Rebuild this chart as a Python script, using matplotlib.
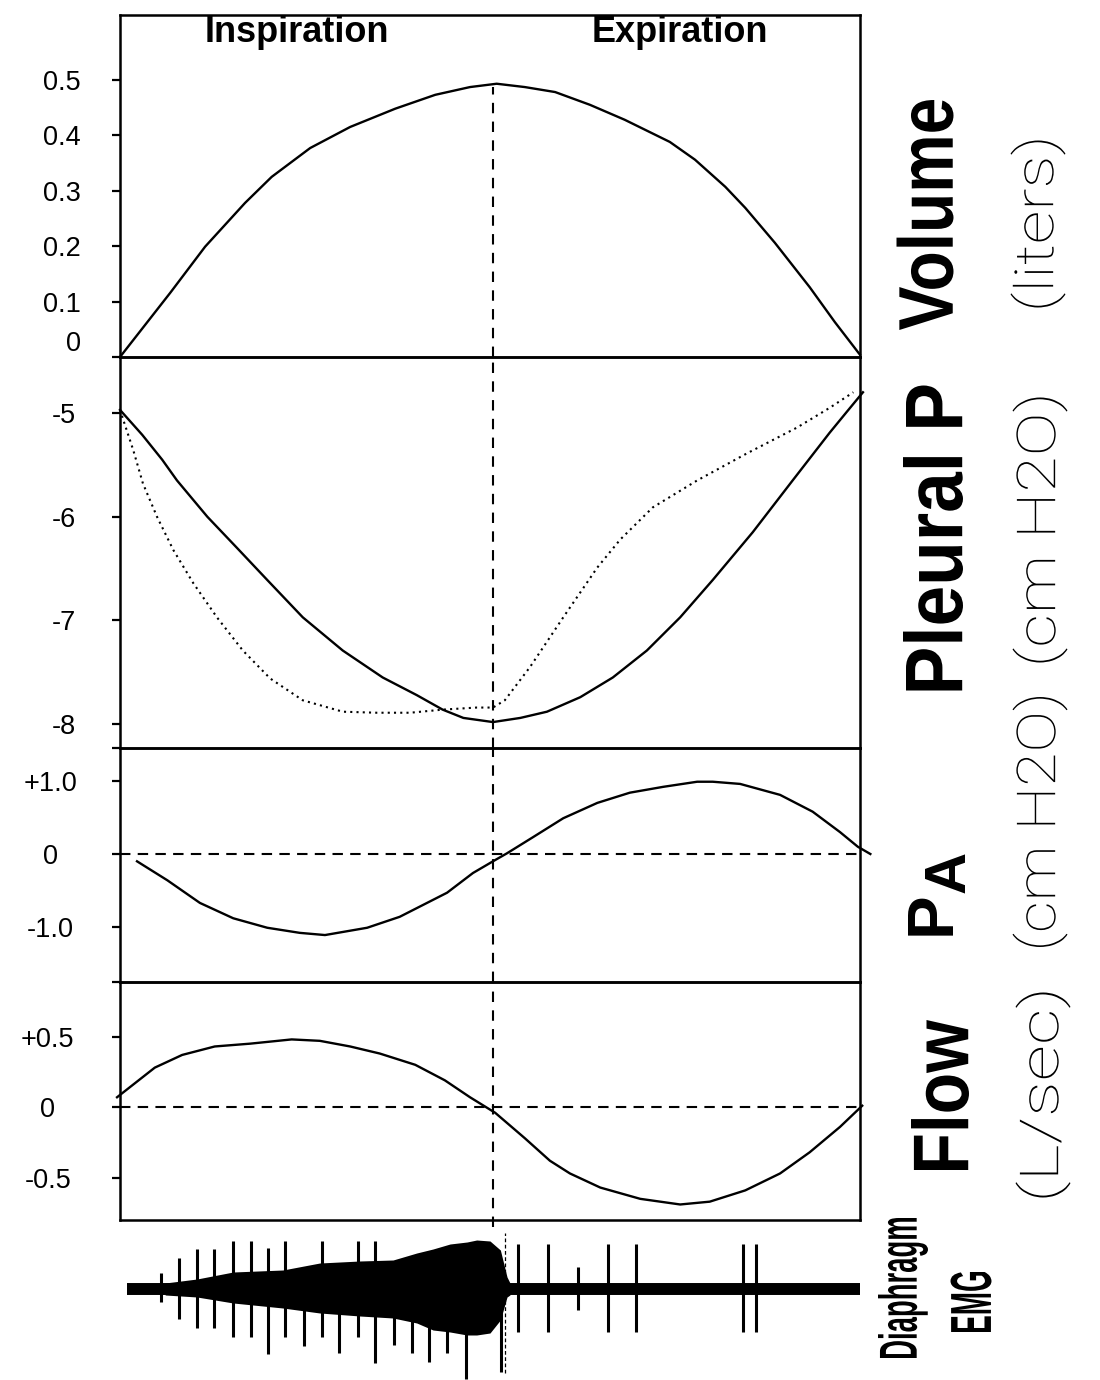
import numpy as np
import matplotlib
matplotlib.use("Agg")
import matplotlib.pyplot as plt
from matplotlib.textpath import TextPath
from matplotlib.patches import PathPatch
from matplotlib.font_manager import FontProperties
from matplotlib.transforms import Affine2D, IdentityTransform

plt.rcParams['font.family'] = ['Liberation Sans', 'DejaVu Sans']

# time as fraction of one breath cycle
t_mid = 0.504

# Volume (liters)
vol_t = [0.0, 0.068, 0.115, 0.169, 0.205, 0.257, 0.311, 0.372, 0.426, 0.473, 0.509,
         0.547, 0.588, 0.635, 0.682, 0.743, 0.777, 0.818, 0.845, 0.885, 0.932, 0.966, 1.0]
vol_v = [0.0, 0.116, 0.199, 0.278, 0.325, 0.377, 0.415, 0.448, 0.473, 0.487, 0.493,
         0.487, 0.478, 0.455, 0.428, 0.388, 0.356, 0.307, 0.269, 0.206, 0.126, 0.063, 0.004]
vol_peak = 0.487

# Pleural pressure (cm H2O), solid and dotted
pl_t = [0.0, 0.030, 0.057, 0.077, 0.118, 0.158, 0.199, 0.247, 0.301, 0.355, 0.401, 0.436,
        0.464, 0.504, 0.541, 0.577, 0.622, 0.666, 0.712, 0.757, 0.801, 0.855, 0.909, 0.959,
        0.982, 1.004]
pl_v = [-4.97, -5.21, -5.45, -5.65, -6.00, -6.30, -6.61, -6.97, -7.29, -7.55, -7.72, -7.86,
        -7.94, -7.98, -7.94, -7.88, -7.74, -7.55, -7.29, -6.97, -6.61, -6.15, -5.65, -5.19,
        -4.99, -4.80]
pl2_t = [0.0, 0.018, 0.031, 0.050, 0.072, 0.099, 0.131, 0.166, 0.203, 0.247, 0.301, 0.347,
         0.392, 0.436, 0.482, 0.504, 0.520, 0.554, 0.599, 0.645, 0.676, 0.720, 0.780, 0.847,
         0.915, 0.959, 0.991]
pl2_v = [-4.97, -5.36, -5.68, -6.00, -6.32, -6.64, -6.97, -7.29, -7.56, -7.77, -7.88, -7.89,
         -7.89, -7.86, -7.84, -7.84, -7.77, -7.45, -6.97, -6.49, -6.22, -5.91, -5.65, -5.39,
         -5.14, -4.95, -4.80]

# Alveolar pressure (cm H2O)
pa_t = [0.023, 0.064, 0.108, 0.153, 0.199, 0.243, 0.277, 0.334, 0.378, 0.442, 0.477, 0.504,
        0.523, 0.558, 0.599, 0.645, 0.689, 0.734, 0.780, 0.801, 0.838, 0.892, 0.936, 0.973,
        0.997, 1.014]
pa_v = [-0.10, -0.36, -0.67, -0.88, -1.01, -1.08, -1.11, -1.01, -0.86, -0.53, -0.26, -0.10,
        0.01, 0.23, 0.49, 0.70, 0.84, 0.92, 0.99, 0.99, 0.96, 0.81, 0.58, 0.30, 0.10, 0.00]

# Flow (L/sec)
fl_t = [-0.004, 0.047, 0.084, 0.128, 0.176, 0.232, 0.270, 0.311, 0.351, 0.399, 0.439, 0.473,
        0.507, 0.547, 0.581, 0.608, 0.649, 0.703, 0.757, 0.797, 0.845, 0.892, 0.932, 0.973,
        1.003]
fl_v = [0.07, 0.28, 0.37, 0.43, 0.45, 0.48, 0.47, 0.43, 0.38, 0.30, 0.19, 0.07,
        -0.04, -0.22, -0.38, -0.47, -0.57, -0.65, -0.69, -0.67, -0.59, -0.47, -0.32, -0.14,
        0.01]

# Diaphragm EMG (arbitrary units)
emg_base = [0.009, 1.003]
env_t = [0.061, 0.104, 0.153, 0.220, 0.270, 0.324, 0.369, 0.401, 0.423, 0.446, 0.469,
         0.482, 0.500, 0.514, 0.523, 0.527]
env_hi = [6, 10, 17, 19, 26, 28, 29, 36, 40, 45, 47, 49, 48, 39, 12, 6]
env_lo = [-6, -8, -14, -19, -24, -27, -29, -34, -41, -43, -46, -46, -44, -31, -8, -6]
spk_t = [0.055, 0.080, 0.104, 0.127, 0.153, 0.177, 0.200, 0.223, 0.249, 0.273, 0.296,
         0.322, 0.345, 0.370, 0.395, 0.418, 0.442, 0.468, 0.515,
         0.538, 0.578, 0.619, 0.659, 0.697, 0.842, 0.859]
spk_hi = [16, 31, 40, 40, 48, 48, 41, 48, 20, 48, 20, 48, 48, 20, 20, 20, 20, 20, 20,
          45, 45, 22, 45, 45, 45, 45]
spk_lo = [-13, -30, -39, -39, -48, -48, -65, -48, -57, -48, -64, -48, -74, -56, -64, -73,
          -64, -90, -83, -43, -43, -21, -43, -43, -43, -43]
t_emg = 0.520

W, H = 1100, 1380
fig = plt.figure(figsize=(W / 100, H / 100), dpi=100)


def box(top, bottom):
    return [120 / W, 1 - bottom / H, 740 / W, (bottom - top) / H]


def style(ax, ticks, labels, ylim, pad=22, ha='right'):
    ax.set_xlim(0, 1)
    ax.set_ylim(*ylim)
    ax.set_xticks([])
    ax.set_yticks(ticks)
    ax.set_yticklabels(labels, ha=ha)
    ax.tick_params(axis='y', direction='out', length=6, width=1.6, pad=pad, labelsize=19.5)
    # divider line pokes out to the left like a tick
    ax.set_yticks([ylim[0]], minor=True)
    ax.tick_params(axis='y', which='minor', direction='out', length=6, width=1.6)
    for s in ax.spines.values():
        s.set_linewidth(1.8)
    ax.patch.set_alpha(0)


lw = 1.7
dash = (0, (5, 4))

ax1 = fig.add_axes(box(15, 357))
style(ax1, [0, 0.1, 0.2, 0.3, 0.4, 0.5], ['0', '0.1', '0.2', '0.3', '0.4', '0.5'], (0, 0.617))
ax1.plot(vol_t, vol_v, color='k', lw=lw, clip_on=False)
ax1.vlines(t_mid, 0, vol_peak, colors='k', linestyles=dash, lw=1.5)
ax1.yaxis.get_major_ticks()[0].label1.set_verticalalignment('bottom')
ax1.text(0.239, 0.948, 'Inspiration', transform=ax1.transAxes, ha='center', va='center',
         fontsize=26, fontweight='bold')
ax1.text(0.757, 0.948, 'Expiration', transform=ax1.transAxes, ha='center', va='center',
         fontsize=26, fontweight='bold')

ax2 = fig.add_axes(box(357, 748))
style(ax2, [-5, -6, -7, -8], ['-5', '-6', '-7', '-8'], (-8.23, -4.46), pad=26)
ax2.plot(pl_t, pl_v, color='k', lw=lw, clip_on=False)
ax2.plot(pl2_t, pl2_v, color='k', lw=1.5, ls=(0, (1, 2)), clip_on=False)
ax2.axvline(t_mid, color='k', ls=dash, lw=1.5)

ax3 = fig.add_axes(box(748, 982))
style(ax3, [1, 0, -1], ['+1.0', '0', '-1.0'], (-1.753, 1.452), pad=44, ha='center')
ax3.plot(pa_t, pa_v, color='k', lw=lw, clip_on=False)
ax3.axhline(0, color='k', ls=(0, (5, 3.5)), lw=1.5)
ax3.axvline(t_mid, color='k', ls=dash, lw=1.5)

ax4 = fig.add_axes(box(982, 1220))
style(ax4, [0.5, 0, -0.5], ['+0.5', '0', '-0.5'], (-0.80, 0.887), pad=46, ha='center')
ax4.set_yticks([], minor=True)
ax4.plot(fl_t, fl_v, color='k', lw=lw, clip_on=False)
ax4.axhline(0, color='k', ls=(0, (5, 3.5)), lw=1.5)
ax4.axvline(t_mid, ymin=-0.03, ymax=1, color='k', ls=dash, lw=1.5, clip_on=False)

ax5 = fig.add_axes(box(1222, 1380))
ax5.set_xlim(0, 1)
ax5.set_ylim(-91, 67)
ax5.axis('off')
ax5.plot(emg_base, [0, 0], color='k', lw=8.6, solid_capstyle='butt')
ax5.fill_between(env_t, env_lo, env_hi, color='k', lw=0)
ax5.vlines(spk_t, spk_lo, spk_hi, colors='k', lw=2.2)
ax5.vlines(t_emg, -84, 56, colors='k', linestyles=(0, (3, 2)), lw=0.9)

# right-hand labels, drawn as paths fitted to a box (rotated 90 degrees)
fp_bold = FontProperties(family='Liberation Sans', weight='bold')
fp_light = FontProperties(family='Roboto', weight='light')
fp_narrow = FontProperties(family=['Liberation Sans Narrow', 'Liberation Sans'], weight='bold')


def path_text(s, cx, cy, thick, length, fp):
    tp = TextPath((0, 0), s, size=100, prop=fp)
    ext = tp.get_extents()
    tr = (Affine2D().translate(-ext.x0 - ext.width / 2, -ext.y0 - ext.height / 2)
          .scale(length / ext.width, thick / ext.height)
          .rotate_deg(90).translate(cx, H - cy))
    fig.add_artist(PathPatch(tr.transform_path(tp), facecolor='k', lw=0,
                             transform=IdentityTransform()))


path_text('Volume', 925, 215, 57, 230, fp_bold)
path_text('Pleural P', 933, 538, 60, 305, fp_bold)
path_text('Flow', 940, 1095, 58, 150, fp_bold)
fig.text(933 / W, 1 - 913 / H, 'P', fontsize=47, fontweight='bold', rotation=90,
         ha='center', va='center')
fig.text(950 / W, 1 - 872 / H, 'A', fontsize=42, fontweight='bold', rotation=90,
         ha='center', va='center')

path_text('(liters)', 1038, 224, 55, 167, fp_light)
path_text('(cm H2O)', 1040, 530, 55, 265, fp_light)
path_text('(cm H2O)', 1040, 822, 55, 250, fp_light)
path_text('(L/sec)', 1043, 1095, 55, 205, fp_light)

path_text('Diaphragm', 903, 1288, 50, 140, fp_narrow)
path_text('EMG', 971, 1302, 41, 60, fp_narrow)

fig.savefig('out.png', dpi=100)
